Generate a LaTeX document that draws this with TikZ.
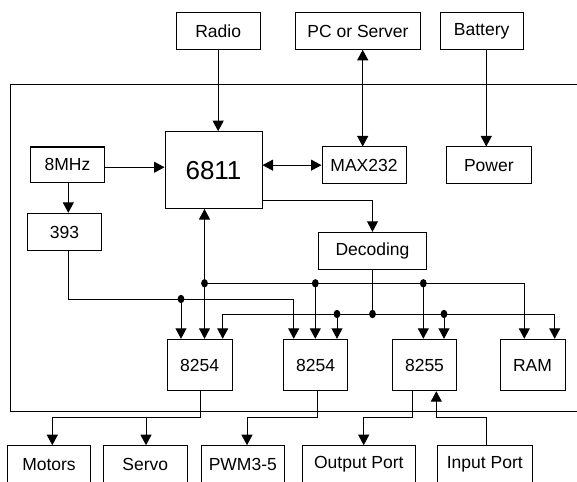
\documentclass[tikz,border=0pt]{standalone}
\usepackage{fontspec}
\setmainfont{Liberation Sans}
\usetikzlibrary{arrows.meta,calc}
\newcommand\mkbox[6]{\node[box, minimum width={(#4-#2)*1pt}, minimum height={(#5-#3)*1pt}] (#1) at ({(#2+#4)/2},{(#3+#5)/2}) {#6};}
\begin{document}
\begin{tikzpicture}[x=1pt,y=-1pt, line width=1pt,
  box/.style={draw, line width=1pt, inner sep=0pt, font=\fontsize{17.5}{20}\selectfont},
  arr/.style={-{Triangle[width=11pt,length=10.5pt]}},
  darr/.style={{Triangle[width=11pt,length=10.5pt]}-{Triangle[width=11pt,length=10.5pt]}},
  jdot/.style={fill}]
\useasboundingbox (0,0) rectangle (577,481);
% frame
\draw (582,85) -| (10.7,411.5) -- (582,411.5);
% boxes
\mkbox{radio}{176}{12.7}{260.3}{49.3}{Radio}
\mkbox{pc}{295.3}{12.7}{420.7}{49.3}{PC or Server}
\mkbox{bat}{440}{12.7}{523.3}{49.3}{Battery}
\mkbox{osc}{30.7}{147}{104.3}{182.3}{8MHz}
\node[draw, line width=1pt, inner sep=0pt, minimum width=97pt, minimum height=76.8pt, font=\fontsize{26}{30}\selectfont] (cpu) at (213.5,170.1) {6811};
\mkbox{max}{322}{147}{406}{183.3}{MAX232}
\mkbox{pow}{446.7}{147}{531}{183.3}{Power}
\mkbox{cnt}{27.3}{213.3}{101.7}{250.7}{393}
\mkbox{dec}{318.3}{232.3}{426.7}{269.3}{Decoding}
\mkbox{tA}{167.3}{339.3}{232}{390.7}{8254}
\mkbox{tB}{283.7}{339.3}{347.7}{390.7}{8254}
\mkbox{ppi}{392.3}{339.3}{456.7}{390.7}{8255}
\mkbox{ram}{500}{339.3}{565}{390.7}{RAM}
\mkbox{mot}{7.3}{445.7}{90.7}{483.5}{Motors}
\mkbox{servo}{103.3}{445.7}{187.3}{483.5}{Servo}
\mkbox{pwm}{201.3}{445.7}{284.3}{483.5}{PWM3-5}
\mkbox{outp}{302}{445.7}{415.7}{483.5}{Output Port}
\mkbox{inp}{437.3}{445.7}{532.3}{483.5}{Input Port}
% top connections
\draw[arr] (radio.south) -- (radio.south |- cpu.north);
\draw[darr] ([xshift=4.7pt]pc.south) -- ([xshift=4.7pt]pc.south |- max.north);
\draw[arr] ([xshift=4.6pt]bat.south) -- ([xshift=4.6pt]bat.south |- pow.north);
\draw[arr] ([yshift=-2.6pt]osc.east) -- ([yshift=-2.6pt]osc.east -| cpu.west);
\draw[arr] ([xshift=0.8pt]osc.south) -- ([xshift=0.8pt]osc.south |- cnt.north);
\draw[darr] (max.west) -- (max.west -| cpu.east);
\draw[arr] ([yshift=-30.2pt]cpu.east) -| (dec.north);
% junctions
\coordinate (jA1) at (204.5,283.3);
\coordinate (jA2) at (315.3,283.3);
\coordinate (jA3) at (423.3,283.3);
\coordinate (bAe) at (524.3,283.3);
\coordinate (jC) at (181,299);
\coordinate (k2) at (293.7,299);
\coordinate (bB0) at (222.7,314);
\coordinate (bB1) at (554.7,314);
\coordinate (jB1) at (337,314);
\coordinate (jB2) at (372.5,314);
\coordinate (jB3) at (444,314);
% data/address buses
\draw[darr] (cpu.south -| jA1) -- (tA.north -| jA1);
\draw[arr] (jA1) -- (bAe) -- (bAe |- ram.north);
\draw[arr] (jA2) -- (jA2 |- tB.north);
\draw[arr] (jA3) -- (jA3 |- ppi.north);
\draw[arr] ([xshift=3.8pt]cnt.south) |- (k2) -- (k2 |- tB.north);
\draw[arr] (jC) -- (jC |- tA.north);
\draw[darr] (bB0 |- tA.north) -- (bB0) -- (bB1) -- (bB1 |- ram.north);
\draw[arr] (jB1) -- (jB1 |- tB.north);
\draw (dec.south) -- (jB2);
\draw[arr] (jB3) -- (jB3 |- ppi.north);
\foreach \p in {jA1,jA2,jA3,jC,jB1,jB2,jB3}
  \fill (\p) ellipse [x radius=3.4pt, y radius=4.2pt];
% outputs
\coordinate (m1) at (52.3,417.7);
\coordinate (s1) at (146,417.7);
\coordinate (p1) at (247,417.7);
\coordinate (o1) at (363.7,417.7);
\coordinate (i1) at (436.3,417.7);
\draw[arr] ([xshift=0.6pt]tA.south) |- (m1) -- (m1 |- mot.north);
\draw[arr] (s1) -- (s1 |- servo.north);
\draw[arr] ([xshift=1.3pt]tB.south) |- (p1) -- (p1 |- pwm.north);
\draw[arr] ([xshift=-12.2pt]ppi.south) |- (o1) -- (o1 |- outp.north);
\draw[arr] ([xshift=1.5pt]inp.north) |- (i1) -- (i1 |- ppi.south);
\end{tikzpicture}
\end{document}
